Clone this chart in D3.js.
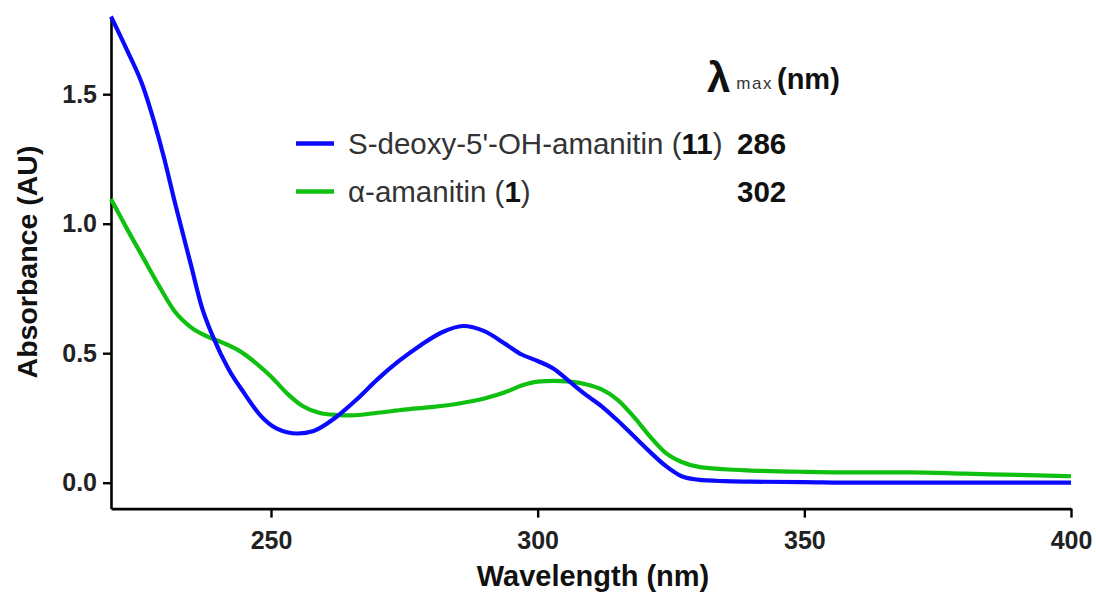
<!DOCTYPE html>
<html><head><meta charset="utf-8">
<script src="https://cdn.jsdelivr.net/npm/d3@7"></script>
<style>body{margin:0;background:#fff}svg{display:block}</style>
</head><body><svg id="c" width="1096" height="599"></svg>
<script>
const blueNm = [220,223,226,228,230,232,235,237,239.2,242,245,248,251,255,258,262,266,270,274,278,282,286,290,294,297,300,303,306,309,312,315,318,321,324,327,330,335,340,350,360,380,400];
const blueAbs = [1.80,1.67,1.53,1.40,1.25,1.08,0.84,0.68,0.56,0.44,0.345,0.26,0.21,0.19,0.20,0.25,0.32,0.40,0.47,0.53,0.58,0.605,0.585,0.535,0.495,0.47,0.44,0.39,0.34,0.295,0.24,0.18,0.12,0.065,0.025,0.012,0.006,0.004,0.002,0.0,0.0,0.0];
const greenNm = [220,223,226,229,232,235,238,241,244,247,250,253,256,259,262,265,270,275,280,285,290,294,297,300,303,306,309,312,315,318,321,324,327,330,335,340,350,360,370,380,390,400];
const greenAbs = [1.095,0.98,0.87,0.76,0.66,0.60,0.565,0.54,0.51,0.465,0.41,0.345,0.295,0.27,0.262,0.26,0.27,0.282,0.292,0.305,0.325,0.35,0.375,0.39,0.393,0.39,0.38,0.36,0.32,0.255,0.18,0.115,0.08,0.062,0.052,0.047,0.042,0.04,0.04,0.035,0.03,0.025];
const seriesNames = ["S-deoxy-5'-OH-amanitin", "α-amanitin"];
const seriesNums = ["11", "1"];
const lambdaMax = ["286", "302"];
const xTicks = [250,300,350,400];
const yTicks = [0.0,0.5,1.0,1.5];

const svg = d3.select("#c");
const x = d3.scaleLinear().domain([220,400]).range([111,1071]);
const y = d3.scaleLinear().domain([-0.1,1.8]).range([508.6,16.5]);
const font = "'Liberation Sans', Arial, sans-serif";

// axes
const xMinor = d3.range(230,401,10).filter(v=>!xTicks.includes(v));
const yMinor = d3.range(0.1,1.8,0.1).map(v=>+v.toFixed(1)).filter(v=>!yTicks.includes(v));
const gx = svg.append("g").attr("transform",`translate(0,${y(-0.1)})`);
gx.call(d3.axisBottom(x).tickValues(xMinor).tickSize(5).tickFormat(""));
gx.call(d3.axisBottom(x).tickValues(xTicks).tickSize(9).tickSizeOuter(0).tickPadding(14).tickFormat(d3.format("d")));
gx.selectAll("path.domain").attr("stroke-width",2.6);
const gy = svg.append("g").attr("transform",`translate(${x(220)},0)`);
gy.call(d3.axisLeft(y).tickValues(yMinor).tickSize(4).tickFormat(""));
gy.call(d3.axisLeft(y).tickValues(yTicks).tickSize(8).tickSizeOuter(0).tickPadding(6).tickFormat(d3.format(".1f")));
gy.selectAll("path.domain").attr("stroke-width",2.6);
svg.selectAll(".tick line").attr("stroke","#000").attr("stroke-width",2.4);
svg.selectAll(".tick text").attr("font-family",font).attr("font-weight","bold").attr("font-size",25).attr("fill","#222");

svg.append("text").attr("x",593).attr("y",586).attr("text-anchor","middle")
  .attr("font-family",font).attr("font-weight","bold").attr("font-size",29).attr("fill","#111").text("Wavelength (nm)");
svg.append("text").attr("transform","translate(37,262) rotate(-90)").attr("text-anchor","middle")
  .attr("font-family",font).attr("font-weight","bold").attr("font-size",28.5).attr("fill","#111").text("Absorbance (AU)");

// curves
const line = d3.line().x(d=>x(d[0])).y(d=>y(d[1])).curve(d3.curveMonotoneX);
const colors = ["#0a0aff","#10c010"];
const data = [d3.zip(blueNm,blueAbs), d3.zip(greenNm,greenAbs)];
[1,0].forEach(i=>{
  svg.append("path").datum(data[i]).attr("d",line).attr("fill","none")
    .attr("stroke",colors[i]).attr("stroke-width",4.2).attr("stroke-linejoin","round");
});

// legend
const lt = svg.append("text").attr("x",707).attr("y",92).attr("font-family",font).attr("fill","#111");
lt.append("tspan").attr("font-size",42).attr("font-weight","bold").text("λ");
lt.append("tspan").attr("font-size",17).attr("dx",6).attr("dy",-3).attr("letter-spacing",1.5).attr("fill","#333").text("max");
lt.append("tspan").attr("font-size",29).attr("font-weight","bold").attr("dx",4).attr("dy",0).attr("letter-spacing",0).text("(nm)");
const ly = [143.5,191.5];
seriesNames.forEach((n,i)=>{
  svg.append("line").attr("x1",296).attr("x2",334).attr("y1",ly[i]).attr("y2",ly[i])
    .attr("stroke",colors[i]).attr("stroke-width",4.5);
  const t = svg.append("text").attr("x",348).attr("y",ly[i]+10).attr("font-family",font)
    .attr("font-size",29.5).attr("fill","#333");
  t.append("tspan").text(n+" (");
  t.append("tspan").attr("font-weight","bold").attr("fill","#111").text(seriesNums[i]);
  t.append("tspan").text(")");
  svg.append("text").attr("x",737).attr("y",ly[i]+10).attr("font-family",font).attr("font-size",29.5)
    .attr("font-weight","bold").attr("fill","#111").text(lambdaMax[i]);
});
</script></body></html>
